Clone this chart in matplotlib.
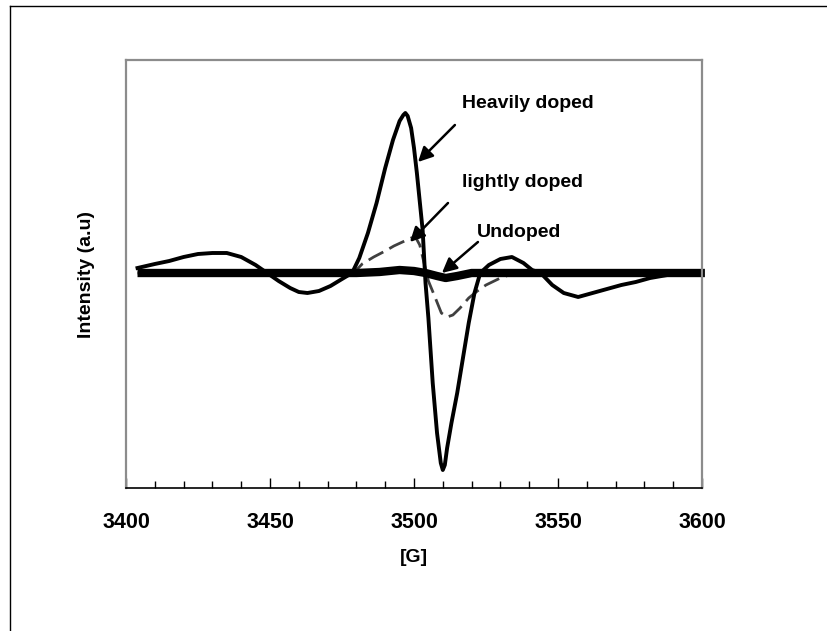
import numpy as np
import matplotlib.pyplot as plt
from matplotlib.lines import Line2D
from matplotlib.ticker import MultipleLocator

plt.rcParams['font.family'] = ['Liberation Sans', 'DejaVu Sans']

# Heavily doped spectrum (field in G, intensity in a.u.)
heavy_field = [3404, 3410, 3415, 3420, 3425, 3430, 3435, 3440, 3445, 3449,
               3453, 3457, 3460, 3463, 3467, 3471, 3475, 3478.5, 3481, 3484,
               3487, 3490, 3492.7, 3495, 3496.3, 3497, 3497.8, 3499, 3500, 3501,
               3503, 3504, 3505, 3506.5, 3508, 3509.3, 3510, 3510.7, 3511.5, 3513,
               3515, 3517, 3519, 3521, 3523, 3526, 3530, 3534, 3538, 3541,
               3544, 3548, 3552, 3557, 3562, 3567, 3572, 3577, 3582, 3588,
               3594, 3600]
heavy_int = [5, 9, 12, 16, 19, 20, 20, 16, 8, 0,
             -8, -15, -19, -20, -18, -13, -6, 0, 15, 40,
             70, 105, 133, 152, 158, 160, 157, 145, 125, 100,
             43, -10, -45, -110, -160, -190, -197, -192, -175, -150,
             -120, -85, -50, -20, 0, 8, 14, 16, 10, 3,
             0, -12, -20, -24, -20, -16, -12, -9, -5, -2,
             0, 0]

# Lightly doped spectrum
light_field = [3404, 3479, 3482, 3486, 3490, 3493, 3496, 3499, 3500.5, 3502,
               3503.5, 3505, 3507, 3509.5, 3511.5, 3513.5, 3516, 3519, 3522, 3525,
               3530, 3535, 3600]
light_int = [0, 0, 9, 16, 22, 27, 31, 35, 36, 28,
             10, -8, -22, -40, -44, -42, -35, -25, -18, -12,
             -5, 0, 0]

# Undoped spectrum
undoped_field = [3404, 3480, 3488, 3495, 3500, 3504, 3508, 3511, 3515, 3520, 3601]
undoped_int = [0, 0, 1, 3, 2, 0, -3, -5, -3, 0, 0]

labels = ['Heavily doped', 'lightly doped', 'Undoped']
label_pos = [(3516.7, 165), (3516.7, 86), (3521.9, 36)]
arrow_tail = [(3514.2, 148), (3511.8, 70), (3522.2, 31)]
arrow_tip = [(3501.4, 111), (3498.6, 31), (3509.7, 0)]

fig = plt.figure(figsize=(8.27, 6.31), dpi=100)
ax = fig.add_axes([126 / 827, 1 - 488 / 631, 576 / 827, 428 / 631])

ax.plot(light_field, light_int, color='0.25', lw=2, dashes=(6, 2.5))
ax.plot(heavy_field, heavy_int, color='black', lw=2.8, solid_joinstyle='round')
ax.plot(undoped_field, undoped_int, color='black', lw=6, solid_capstyle='butt', clip_on=False)

for text, pos, tail, tip in zip(labels, label_pos, arrow_tail, arrow_tip):
    ax.text(pos[0], pos[1], text, fontsize=14, fontweight='bold', ha='left', va='baseline')
    ax.annotate('', xy=tip, xytext=tail,
                arrowprops=dict(arrowstyle='-|>', color='black', lw=1.8, mutation_scale=22,
                                shrinkA=0, shrinkB=0))

ax.set_xlim(3400, 3600)
ax.set_ylim(-215, 213)
ax.xaxis.set_major_locator(MultipleLocator(50))
ax.xaxis.set_minor_locator(MultipleLocator(10))
ax.set_yticks([])
ax.tick_params(axis='x', which='major', direction='in', length=7, width=1, color='black',
               labelsize=15.5, pad=17)
ax.tick_params(axis='x', which='minor', direction='in', length=5, width=1, color='black')
for lab in ax.get_xticklabels():
    lab.set_fontweight('bold')

for side in ['left', 'top', 'right']:
    ax.spines[side].set_color('#8c8c8c')
    ax.spines[side].set_linewidth(1.6)
ax.spines['bottom'].set_color('black')
ax.spines['bottom'].set_linewidth(1.2)

ax.set_xlabel('[G]', fontsize=14, fontweight='bold', labelpad=12)
ax.set_ylabel('Intensity (a.u)', fontsize=14, fontweight='bold', labelpad=22)

# outer chart border
fig.add_artist(Line2D([10 / 827, 10 / 827], [0, 1 - 6 / 631], color='black', lw=1))
fig.add_artist(Line2D([10 / 827, 1], [1 - 6 / 631, 1 - 6 / 631], color='black', lw=1))

fig.savefig('out.png', dpi=100)
